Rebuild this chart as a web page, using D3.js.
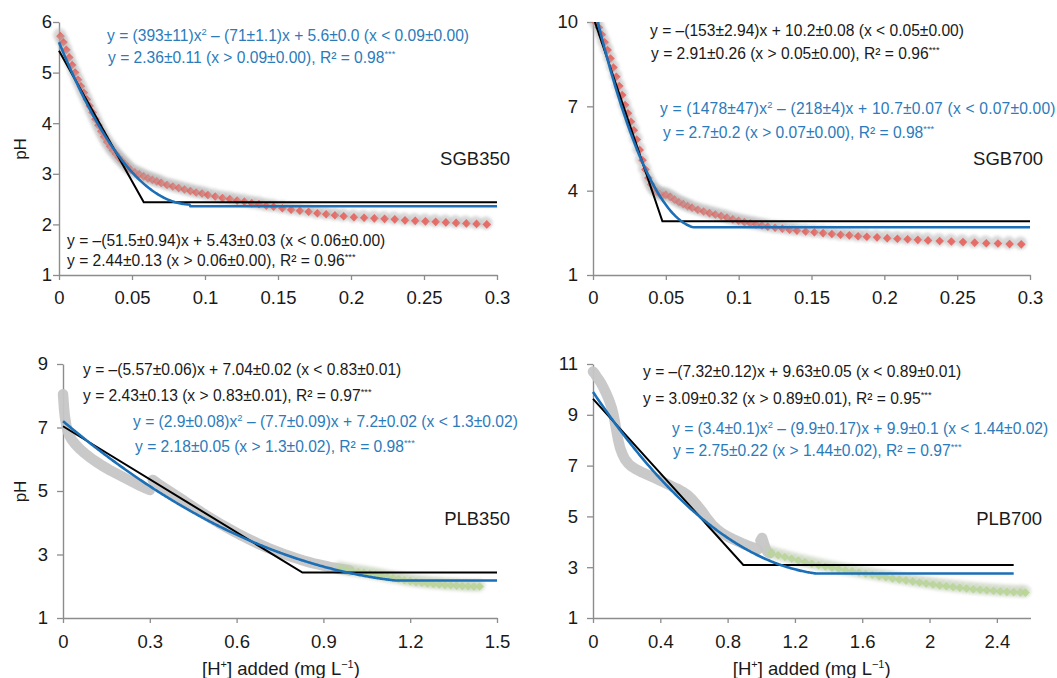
<!DOCTYPE html>
<html>
<head>
<meta charset="utf-8">
<script src="https://cdn.jsdelivr.net/npm/d3@7"></script>
<style>
  html, body { margin: 0; padding: 0; background: #fff; }
  svg { display: block; font-family: "Liberation Sans", Arial, sans-serif; }
</style>
</head>
<body>
<svg id="chart" width="1057" height="678">
  <defs>
    <filter id="soft" x="-50%" y="-50%" width="200%" height="200%">
      <feGaussianBlur stdDeviation="1.5"/>
    </filter>
  </defs>
</svg>
<script>
// ---------- titration data (pH vs added acid) ----------
const sgb350X = [0.001,0.003,0.005,0.007,0.009,0.011,0.013,0.015,0.017,0.019,0.021,0.023,0.025,0.027,0.029,0.031,0.033,0.035,0.037,0.039,0.041,0.043,0.045,0.047,0.049,
  0.052,0.055,0.058,0.061,0.064,0.067,0.070,0.074,0.078,0.082,0.086,0.090,0.094,0.098,0.102,0.107,0.112,0.117,0.122,0.127,0.132,0.137,0.142,0.147,
  0.153,0.159,0.165,0.171,0.177,0.183,0.189,0.195,0.202,0.209,0.216,0.223,0.230,0.237,0.244,0.251,0.258,0.265,0.272,0.279,0.286,0.293];
const sgb350PH = [5.72,5.60,5.45,5.30,5.15,5.00,4.86,4.73,4.60,4.47,4.34,4.21,4.08,3.96,3.84,3.73,3.63,3.54,3.46,3.39,3.32,3.26,3.20,3.14,3.08,
  3.03,2.99,2.95,2.91,2.88,2.85,2.82,2.78,2.75,2.72,2.69,2.66,2.63,2.61,2.58,2.55,2.52,2.50,2.47,2.45,2.42,2.40,2.37,2.35,
  2.32,2.29,2.27,2.25,2.22,2.20,2.18,2.16,2.14,2.13,2.12,2.11,2.10,2.08,2.07,2.06,2.05,2.04,2.03,2.02,2.01,2.00];

const sgb700X = [0.002,0.004,0.006,0.008,0.010,0.012,0.014,0.016,0.018,0.020,0.022,0.024,0.026,0.028,0.030,0.032,0.034,0.036,0.038,0.040,0.042,0.044,0.046,0.048,
  0.050,0.053,0.056,0.059,0.062,0.065,0.068,0.072,0.076,0.080,0.084,0.088,0.092,0.096,0.100,0.104,0.108,0.112,0.116,0.120,
  0.125,0.130,0.135,0.140,0.146,0.152,0.158,0.164,0.170,0.176,0.182,0.188,0.195,0.202,0.209,0.216,0.223,0.230,
  0.238,0.246,0.254,0.262,0.270,0.278,0.286,0.294];
const sgb700PH = [9.98,9.80,9.55,9.28,9.00,8.70,8.38,8.05,7.72,7.40,7.05,6.75,6.45,6.15,5.82,5.45,5.08,4.75,4.45,4.22,4.05,3.95,3.88,3.83,
  3.85,3.78,3.68,3.59,3.52,3.45,3.39,3.32,3.26,3.20,3.15,3.10,3.04,2.98,2.93,2.88,2.84,2.80,2.76,2.72,
  2.68,2.65,2.61,2.58,2.55,2.52,2.49,2.46,2.43,2.41,2.38,2.36,2.34,2.31,2.29,2.27,2.25,2.23,
  2.21,2.19,2.17,2.15,2.13,2.12,2.10,2.09];

const plb350RunAX = [0.000,0.002,0.004,0.007,0.011,0.016,0.022,0.030,0.040,0.050,0.060,0.075,0.090,0.105,0.120,0.135,0.150,0.165,0.180,0.195,0.210,0.225,0.240,0.255,0.270,0.285,0.300];
const plb350RunAPH = [8.05,7.80,7.55,7.30,7.08,6.90,6.75,6.62,6.50,6.40,6.31,6.19,6.08,5.98,5.89,5.80,5.72,5.64,5.57,5.50,5.43,5.36,5.29,5.22,5.15,5.09,5.03];
const plb350RunBX = [0.31,0.33,0.35,0.37,0.39,0.41,0.43,0.45,0.47,0.49,0.51,0.53,0.55,0.57,0.59,0.61,0.63,0.65,0.67,0.69,0.71,0.73,0.75,0.77,0.79,0.81,0.83,0.85,0.87,0.89,0.91,0.93,0.95,0.97,0.99];
const plb350RunBPH = [5.35,5.22,5.10,4.98,4.86,4.74,4.62,4.50,4.38,4.26,4.15,4.04,3.93,3.83,3.73,3.63,3.54,3.45,3.36,3.28,3.20,3.13,3.06,2.99,2.93,2.87,2.81,2.76,2.71,2.67,2.63,2.59,2.56,2.53,2.50];
const plb350X = [0.96,0.98,1.00,1.02,1.04,1.06,1.08,1.10,1.12,1.14,1.16,1.18,1.20,1.22,1.24,1.26,1.28,1.30,1.32,1.34,1.36,1.38,1.40,1.42,1.44];
const plb350PH = [2.55,2.51,2.48,2.45,2.42,2.39,2.36,2.33,2.29,2.26,2.23,2.19,2.16,2.13,2.11,2.09,2.07,2.06,2.04,2.03,2.02,2.01,2.00,1.99,1.99];

const plb700RunAX = [0.000,0.010,0.020,0.035,0.050,0.065,0.080,0.095,0.110,0.120,0.130,0.140,0.150,0.160,0.175,0.190,0.210,0.230,0.260,0.290,0.320,0.350,0.380,0.410,0.440,
  0.470,0.500,0.530,0.560,0.590,0.620,0.650,0.680,0.710,0.740,0.770,0.800,0.830,0.860,0.890,0.920,0.950,0.980];
const plb700RunAPH = [10.70,10.62,10.52,10.38,10.22,10.03,9.82,9.58,9.30,9.05,8.72,8.35,8.00,7.72,7.45,7.25,7.08,6.96,6.84,6.74,6.65,6.56,6.47,6.38,6.28,
  6.18,6.09,5.98,5.85,5.66,5.43,5.18,4.90,4.66,4.47,4.33,4.21,4.11,4.02,3.93,3.85,3.78,3.71];
const plb700RunBX = [0.995,1.005,1.015,1.025,1.035,1.050];
const plb700RunBPH = [4.05,4.15,3.95,3.75,3.62,3.55];
const plb700X = [1.06,1.10,1.14,1.18,1.22,1.26,1.30,1.34,1.38,1.42,1.46,1.50,1.54,1.58,1.62,1.66,1.70,1.74,1.78,1.82,1.86,1.90,1.94,1.98,
  2.02,2.06,2.10,2.14,2.18,2.22,2.26,2.30,2.34,2.38,2.42,2.46,2.50,2.54,2.57];
const plb700PH = [3.55,3.47,3.40,3.33,3.26,3.20,3.14,3.08,3.03,2.98,2.93,2.88,2.84,2.79,2.74,2.70,2.65,2.61,2.56,2.52,2.48,2.44,2.40,2.36,
  2.32,2.28,2.25,2.22,2.19,2.16,2.13,2.11,2.09,2.07,2.05,2.03,2.02,2.01,2.00];

// ---------- fitted models ----------
// linear-plateau: [slope, intercept, plateau]
const sgb350Lin = [-51.5, 5.43, 2.44];
const sgb700Lin = [-153, 10.2, 2.91];
const plb350Lin = [-5.57, 7.04, 2.43];
const plb700Lin = [-7.32, 9.63, 3.09];
// quadratic-plateau: [a, b, c, join, plateau]
const sgb350Quad = [393, -71, 5.6, 0.09, 2.36];
const sgb700Quad = [1478, -218, 10.7, 0.07, 2.7];
const plb350Quad = [2.9, -7.7, 7.2, 1.3, 2.18];
const plb700Quad = [3.4, -9.9, 9.9, 1.44, 2.75];

// ---------- axis ticks ----------
const sgbXTicks = [0, 0.05, 0.1, 0.15, 0.2, 0.25, 0.3];
const sgb350YTicks = [1, 2, 3, 4, 5, 6];
const sgb700YTicks = [1, 4, 7, 10];
const plb350XTicks = [0, 0.3, 0.6, 0.9, 1.2, 1.5];
const plb350YTicks = [1, 3, 5, 7, 9];
const plb700XTicks = [0, 0.4, 0.8, 1.2, 1.6, 2, 2.4];
const plb700YTicks = [1, 3, 5, 7, 9, 11];

// ---------- annotation text ({...} = superscript) ----------
const sgb350LinEq = ["y = –(51.5±0.94)x + 5.43±0.03 (x < 0.06±0.00)", "y = 2.44±0.13 (x > 0.06±0.00), R² = 0.96{***}"];
const sgb350QuadEq = ["y = (393±11)x{2} – (71±1.1)x + 5.6±0.0 (x < 0.09±0.00)", "y = 2.36±0.11 (x > 0.09±0.00), R² = 0.98{***}"];
const sgb700LinEq = ["y = –(153±2.94)x + 10.2±0.08 (x < 0.05±0.00)", "y = 2.91±0.26 (x > 0.05±0.00), R² = 0.96{***}"];
const sgb700QuadEq = ["y = (1478±47)x{2} – (218±4)x + 10.7±0.07 (x < 0.07±0.00)", "y = 2.7±0.2 (x > 0.07±0.00), R² = 0.98{***}"];
const plb350LinEq = ["y = –(5.57±0.06)x + 7.04±0.02 (x < 0.83±0.01)", "y = 2.43±0.13 (x > 0.83±0.01), R² = 0.97{***}"];
const plb350QuadEq = ["y = (2.9±0.08)x{2} – (7.7±0.09)x + 7.2±0.02 (x < 1.3±0.02)", "y = 2.18±0.05 (x > 1.3±0.02), R² = 0.98{***}"];
const plb700LinEq = ["y = –(7.32±0.12)x + 9.63±0.05 (x < 0.89±0.01)", "y = 3.09±0.32 (x > 0.89±0.01), R² = 0.95{***}"];
const plb700QuadEq = ["y = (3.4±0.1)x{2} – (9.9±0.17)x + 9.9±0.1 (x < 1.44±0.02)", "y = 2.75±0.22 (x > 1.44±0.02),  R² = 0.97{***}"];

const RED = "#e8605b", GREEN = "#b6d78e", GRAY = "#c6c6c6";
const BLACK_LINE = "#000000", BLUE_LINE = "#1b6fb6", BLUE_TEXT = "#2b7bbb", TEXT = "#1a1a1a";
const EQ_SIZE = 15.6;

const svg = d3.select("#chart");
const defs = svg.select("defs");

const panels = [
  { name: "SGB350", xDomain: [0, 0.3], yDomain: [1, 6], xr: [59, 497], yr: [275, 22],
    xTicks: sgbXTicks, yTicks: sgb350YTicks, yPad: 1, yTitle: true, xTitle: false,
    runs: [], series: [sgb350X, sgb350PH], color: RED, glow: "#b0b0b0",
    lin: sgb350Lin, quad: sgb350Quad, xEnd: 0.3,
    eqs: [{ lines: sgb350QuadEq, x: [107, 108], y: [40.5, 62.5], fill: BLUE_TEXT, ls: [0, 0] },
          { lines: sgb350LinEq, x: [67, 67], y: [245.5, 266], fill: TEXT, ls: [0, 0] }],
    label: [510, 164.5], tickY: 303.5 },
  { name: "SGB700", xDomain: [0, 0.3], yDomain: [1, 10], xr: [593, 1030], yr: [275, 22],
    xTicks: sgbXTicks, yTicks: sgb700YTicks, yPad: 9, yTitle: false, xTitle: false,
    runs: [], series: [sgb700X, sgb700PH], color: RED, glow: "#b0b0b0",
    lin: sgb700Lin, quad: sgb700Quad, xEnd: 0.3,
    eqs: [{ lines: sgb700LinEq, x: [650, 651], y: [35.5, 58.5], fill: TEXT, ls: [0, 0] },
          { lines: sgb700QuadEq, x: [660, 663], y: [113.5, 137.5], fill: BLUE_TEXT, ls: [0.2, 0] }],
    label: [1043, 164.5], tickY: 303.5 },
  { name: "PLB350", xDomain: [0, 1.5], yDomain: [1, 9], xr: [63, 497], yr: [618, 364],
    xTicks: plb350XTicks, yTicks: plb350YTicks, yPad: 9, yTitle: true, xTitle: true,
    runs: [[plb350RunAX, plb350RunAPH], [plb350RunBX, plb350RunBPH]], series: [plb350X, plb350PH], color: GREEN, glow: "#c2cdb5",
    lin: plb350Lin, quad: plb350Quad, xEnd: 1.5,
    eqs: [{ lines: plb350LinEq, x: [83, 83], y: [375, 400.5], fill: TEXT, ls: [0, 0] },
          { lines: plb350QuadEq, x: [133, 135], y: [427, 452], fill: BLUE_TEXT, ls: [0, 0] }],
    label: [510, 524.5], tickY: 648 },
  { name: "PLB700", xDomain: [0, 2.6], yDomain: [1, 11], xr: [593, 1030.5], yr: [618, 364],
    xTicks: plb700XTicks, yTicks: plb700YTicks, yPad: 9, yTitle: false, xTitle: true,
    runs: [[plb700RunAX, plb700RunAPH], [plb700RunBX, plb700RunBPH]], series: [plb700X, plb700PH], color: GREEN, glow: "#c2cdb5",
    lin: plb700Lin, quad: plb700Quad, xEnd: 2.5,
    eqs: [{ lines: plb700LinEq, x: [643, 643], y: [376.5, 404], fill: TEXT, ls: [0, 0] },
          { lines: plb700QuadEq, x: [672, 673], y: [434, 455.5], fill: BLUE_TEXT, ls: [0, 0] }],
    label: [1042, 524.5], tickY: 648 }
];

// diamond marker outline centred on the origin
const diamond = r => `M0,${-r}L${r},0L0,${r}L${-r},0Z`;

// writes a text line, turning {...} runs into raised, smaller spans
function richText(g, str, x, y, fill, size, spacing) {
  const t = g.append("text").attr("x", x).attr("y", y).attr("fill", fill)
    .attr("font-size", size).attr("letter-spacing", spacing || 0);
  const parts = str.split(/(\{[^}]*\})/).filter(s => s.length);
  let raised = false;
  parts.forEach(p => {
    if (p.startsWith("{")) {
      t.append("tspan").attr("dy", -size * 0.38).attr("font-size", size * 0.6).text(p.slice(1, -1));
      raised = true;
    } else {
      const s = t.append("tspan").text(p);
      if (raised) { s.attr("dy", size * 0.38); raised = false; }
    }
  });
}

panels.forEach((p, pi) => {
  const g = svg.append("g");
  const x = d3.scaleLinear().domain(p.xDomain).range(p.xr);
  const y = d3.scaleLinear().domain(p.yDomain).range(p.yr);

  // plot-area clip so fitted curves stop at the axis limits
  const clipId = `plotclip${pi}`;
  defs.append("clipPath").attr("id", clipId).append("rect")
    .attr("x", p.xr[0] - 12).attr("y", p.yr[1])
    .attr("width", p.xr[1] - p.xr[0] + 24).attr("height", p.yr[0] - p.yr[1]);

  // axes
  const xAxis = d3.axisBottom(x).tickValues(p.xTicks).tickFormat(d => String(d))
    .tickSize(5).tickSizeOuter(0).tickPadding(9);
  const yAxis = d3.axisLeft(y).tickValues(p.yTicks).tickFormat(d => String(d))
    .tickSize(6).tickSizeOuter(0).tickPadding(p.yPad);
  const gx = g.append("g").attr("transform", `translate(0,${p.yr[0]})`).call(xAxis);
  const gy = g.append("g").attr("transform", `translate(${p.xr[0]},0)`).call(yAxis);
  [gx, gy].forEach(a => {
    a.select(".domain").attr("stroke", "#8c8c8c").attr("stroke-width", 1.4);
    a.selectAll(".tick line").attr("stroke", "#8c8c8c").attr("stroke-width", 1.3);
    a.selectAll(".tick text").attr("fill", TEXT).attr("font-size", 18.5)
      .attr("font-family", "Liberation Sans, Arial, sans-serif");
  });
  gx.selectAll(".tick text").attr("dy", null).attr("y", p.tickY - p.yr[0])
    .attr("dominant-baseline", "auto");

  const plot = g.append("g").attr("clip-path", `url(#${clipId})`);

  // measured points drawn as a dense grey band
  const band = d3.line().x(d => x(d[0])).y(d => y(d[1]));
  p.runs.forEach(r => {
    plot.append("path").datum(d3.zip(r[0], r[1])).attr("d", band)
      .attr("fill", "none").attr("stroke", GRAY).attr("stroke-width", 10.5)
      .attr("stroke-linecap", "round").attr("stroke-linejoin", "round").attr("opacity", 0.95);
  });

  // measured points drawn as diamonds; each carries a soft grey glow, so where
  // readings crowd together the glow of later points veils the earlier ones
  const pts = plot.append("g").selectAll("g").data(d3.zip(p.series[0], p.series[1])).join("g")
    .attr("transform", d => `translate(${x(d[0])},${y(d[1])})`);
  pts.append("circle").attr("cx", -0.8).attr("cy", -1.2).attr("r", 6.6)
    .attr("fill", p.glow).attr("opacity", 0.5).attr("filter", "url(#soft)");
  pts.append("path").attr("d", diamond(4.3)).attr("fill", p.color).attr("opacity", 0.9);

  // linear-plateau model
  const [m, b, lp] = p.lin;
  const brk = (lp - b) / m;
  plot.append("path").datum([[0, b], [brk, lp], [p.xEnd, lp]]).attr("d", band)
    .attr("fill", "none").attr("stroke", BLACK_LINE).attr("stroke-width", 2);

  // quadratic-plateau model
  const [qa, qb, qc, qj, qp] = p.quad;
  const qf = v => v < qj ? Math.max(qa * v * v + qb * v + qc, qp) : qp;
  const qs = d3.range(0, 401).map(i => { const v = p.xEnd * i / 400; return [v, qf(v)]; });
  plot.append("path").datum(qs).attr("d", band)
    .attr("fill", "none").attr("stroke", BLUE_LINE).attr("stroke-width", 2.6);

  // equations
  p.eqs.forEach(e => {
    e.lines.forEach((ln, i) => richText(g, ln, e.x[i], e.y[i], e.fill, EQ_SIZE, e.ls[i]));
  });

  // sample label
  g.append("text").attr("x", p.label[0]).attr("y", p.label[1]).attr("text-anchor", "end")
    .attr("font-size", 18.5).attr("fill", TEXT).text(p.name);

  if (p.yTitle) {
    const cy = (p.yr[0] + p.yr[1]) / 2 + 0.5;
    g.append("text").attr("transform", `translate(26,${cy}) rotate(-90)`)
      .attr("text-anchor", "middle").attr("font-size", 17).attr("fill", TEXT).text("pH");
  }
  if (p.xTitle) {
    const cx = (p.xr[0] + p.xr[1]) / 2 + (p.name === "PLB700" ? 0 : 1);
    const t = g.append("text").attr("x", cx).attr("y", 674.5).attr("text-anchor", "middle")
      .attr("font-size", 18.5).attr("fill", TEXT);
    t.append("tspan").text("[H");
    t.append("tspan").attr("dy", -7).attr("font-size", 11).text("+");
    t.append("tspan").attr("dy", 7).text("] added (mg L");
    t.append("tspan").attr("dy", -7).attr("font-size", 11).text("−1");
    t.append("tspan").attr("dy", 7).text(")");
  }
});
</script>
</body>
</html>
